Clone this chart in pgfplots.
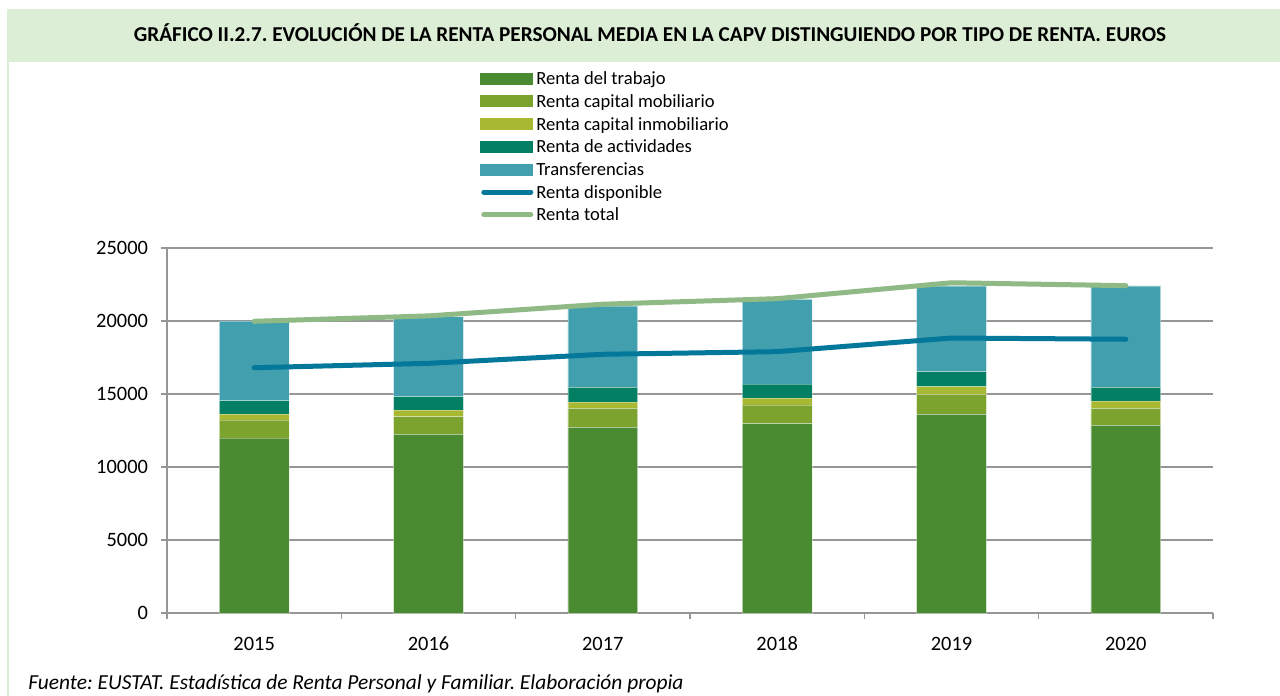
\documentclass[border=0pt]{standalone}
\usepackage{pgfplots}
\pgfplotsset{compat=1.18}
\usepackage{fontspec}
\setmainfont{Carlito}
\frenchspacing

\definecolor{ctrab}{HTML}{4A8A31}
\definecolor{cmob}{HTML}{7BA32E}
\definecolor{cinm}{HTML}{A8B832}
\definecolor{cact}{HTML}{038063}
\definecolor{ctra}{HTML}{42A0AE}
\definecolor{cdisp}{HTML}{04789B}
\definecolor{ctot}{HTML}{8FB985}
\definecolor{band}{HTML}{DDEED6}
\definecolor{gridgray}{RGB}{150,150,150}

\pgfplotsset{
  barleg/.style={legend image code/.code={\fill[#1] (0pt,-1.25pt) rectangle (26pt,4.25pt);}},
  lineleg/.style={legend image code/.code={\draw[#1, line width=2.5pt, line cap=round] (1.5pt,1.5pt) -- (25pt,1.5pt);}},
  segment/.style={fill=#1, draw=white, draw opacity=0.35, line width=0.3pt},
  frame/.style={
    at={(83.5pt,-306.5pt)}, anchor=south west,
    width=523pt, height=182.5pt, scale only axis,
    xmin=-0.5, xmax=5.5, ymin=0, ymax=25000,
  },
}

\begin{document}
\begin{tikzpicture}
% background, title band and left border
\fill[white] (0pt,0pt) rectangle (640pt,-348pt);
\fill[band] (3.5pt,-4.5pt) rectangle (640pt,-31pt);
\fill[band] (3.5pt,-31pt) rectangle (4.5pt,-348pt);
\node[font=\bfseries\fontsize{10.6}{12}\selectfont] at (325pt,-16.5pt)
  {GRÁFICO II.2.7. EVOLUCIÓN DE LA RENTA PERSONAL MEDIA EN LA CAPV DISTINGUIENDO POR TIPO DE RENTA. EUROS};
\node[anchor=base west, inner sep=0pt, font=\itshape\fontsize{10.7}{12}\selectfont] at (14pt,-344.5pt)
  {Fuente: EUSTAT. Estadística de Renta Personal y Familiar. Elaboración propia};

% stacked bars
\begin{axis}[
  frame,
  ybar stacked, bar width=0.4,
  axis x line*=bottom, axis y line*=left,
  axis line style={gridgray, line width=0.9pt, -},
  ymajorgrids, grid style={gridgray, line width=0.75pt},
  ytick={0,5000,10000,15000,20000,25000},
  scaled y ticks=false,
  xtick={-0.5,0.5,1.5,2.5,3.5,4.5,5.5}, xticklabels={},
  extra x ticks={0,1,2,3,4,5},
  extra x tick labels={2015,2016,2017,2018,2019,2020},
  extra x tick style={major tick length=0pt,
    tick label style={anchor=north, text height=7pt, text depth=1pt, yshift=-8pt}},
  tick align=outside, major tick length=3pt,
  tick style={gridgray, line width=0.75pt},
  tick label style={font=\fontsize{10.2}{12}\selectfont},
  yticklabel style={xshift=-3pt},
  /pgf/number format/1000 sep={},
  /pgf/number format/assume math mode=true,
]
\addplot[segment=ctrab] coordinates {(0,11970) (1,12240) (2,12720) (3,12970) (4,13610) (5,12860)};
\addplot[segment=cmob]  coordinates {(0,1250) (1,1205) (2,1300) (3,1280) (4,1370) (5,1160)};
\addplot[segment=cinm]  coordinates {(0,410) (1,455) (2,430) (3,475) (4,520) (5,500)};
\addplot[segment=cact]  coordinates {(0,910) (1,915) (2,1010) (3,960) (4,1030) (5,940)};
\addplot[segment=ctra]  coordinates {(0,5450) (1,5475) (2,5570) (3,5805) (4,5870) (5,6940)};
\end{axis}

% lines and legend
\begin{axis}[
  frame,
  axis lines=none, ticks=none,
  legend style={at={(0.2992,1.488)}, anchor=north west, draw=none, fill=none,
    inner sep=0pt, row sep=0pt, font=\fontsize{9.3}{11}\selectfont,
    nodes={inner xsep=1.5pt, inner ysep=0pt, text height=7.2pt, text depth=4.15pt}},
  legend cell align=left,
]
\addlegendimage{barleg=ctrab}\addlegendentry{Renta del trabajo}
\addlegendimage{barleg=cmob}\addlegendentry{Renta capital mobiliario}
\addlegendimage{barleg=cinm}\addlegendentry{Renta capital inmobiliario}
\addlegendimage{barleg=cact}\addlegendentry{Renta de actividades}
\addlegendimage{barleg=ctra}\addlegendentry{Transferencias}
\addplot[cdisp, line width=2.5pt, line cap=round, line join=round, mark=none, lineleg=cdisp]
  coordinates {(0,16800) (1,17100) (2,17720) (3,17900) (4,18835) (5,18750)};
\addlegendentry{Renta disponible}
\addplot[ctot, line width=2.5pt, line cap=round, line join=round, mark=none, lineleg=ctot]
  coordinates {(0,19980) (1,20350) (2,21150) (3,21530) (4,22620) (5,22420)};
\addlegendentry{Renta total}
\end{axis}

\pgfresetboundingbox
\useasboundingbox (0pt,0pt) rectangle (640pt,-348pt);
\end{tikzpicture}
\end{document}
